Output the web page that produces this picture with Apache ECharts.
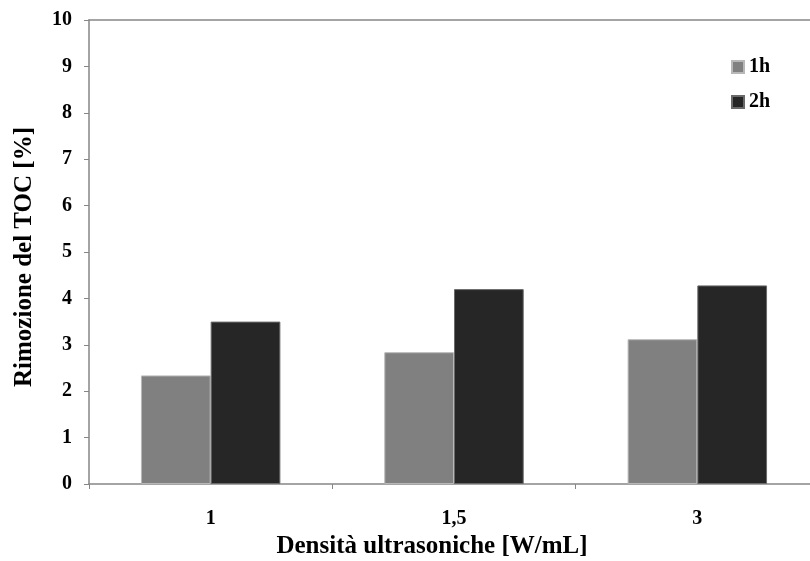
<!DOCTYPE html>
<html>
<head>
<meta charset="utf-8">
<script src="https://cdn.jsdelivr.net/npm/echarts@6/dist/echarts.min.js"></script>
<style>html,body{margin:0;padding:0;background:#fff;}#c{width:810px;height:561px;}</style>
</head>
<body>
<div id="c"></div>
<script>
const categories = ['1', '1,5', '3'];
const series1h = [2.34, 2.84, 3.12];
const series2h = [3.50, 4.20, 4.28];
const seriesNames = ['1h', '2h'];
const yMin = 0, yMax = 10, yInterval = 1;

const font = '"Liberation Serif", "Times New Roman", serif';
const chart = echarts.init(document.getElementById('c'), null, {renderer: 'canvas'});
chart.setOption({
  animation: false,
  backgroundColor: '#ffffff',
  grid: {left: 89, top: 20, height: 464, width: 730, containLabel: false, outerBoundsMode: 'none'},
  legend: {
    orient: 'vertical', left: 726, top: 52,
    itemWidth: 12, itemHeight: 12, itemGap: 15,
    icon: 'rect',
    data: seriesNames,
    textStyle: {fontFamily: font, fontWeight: 'bold', fontSize: 20, color: '#000'}
  },
  xAxis: [{
    type: 'category', data: categories, position: 'bottom',
    axisLine: {lineStyle: {color: '#868686', width: 1.5}},
    axisTick: {show: true, length: 5, lineStyle: {color: '#868686'}},
    axisLabel: {fontFamily: font, fontWeight: 'bold', fontSize: 20, color: '#000', margin: 25},
    name: 'Densità ultrasoniche [W/mL]', nameLocation: 'middle', nameGap: 47,
    nameTextStyle: {fontFamily: font, fontWeight: 'bold', fontSize: 25, color: '#000', padding: [0, 44, 0, 0]}
  }, {
    type: 'category', data: categories, position: 'top',
    axisLine: {show: true, lineStyle: {color: '#868686', width: 1.5}},
    axisTick: {show: false}, axisLabel: {show: false}
  }],
  yAxis: {
    type: 'value', min: yMin, max: yMax, interval: yInterval,
    axisLine: {show: true, lineStyle: {color: '#868686', width: 1.5}},
    axisTick: {show: true, length: 5, lineStyle: {color: '#868686'}},
    splitLine: {show: false},
    axisLabel: {fontFamily: font, fontWeight: 'bold', fontSize: 20, color: '#000', margin: 17},
    name: 'Rimozione del TOC [%]', nameLocation: 'middle', nameGap: 52, nameRotate: 90,
    nameTextStyle: {fontFamily: font, fontWeight: 'bold', fontSize: 25, color: '#000', padding: [0, 10, 0, 0]}
  },
  series: [{
    name: seriesNames[0], type: 'bar', data: series1h,
    barGap: '0%', barCategoryGap: '42.7%',
    itemStyle: {color: '#808080', borderColor: '#b8b8b8', borderWidth: 1}
  }, {
    name: seriesNames[1], type: 'bar', data: series2h,
    itemStyle: {color: '#262626', borderColor: '#6a6a6a', borderWidth: 1}
  }]
});
</script>
</body>
</html>
